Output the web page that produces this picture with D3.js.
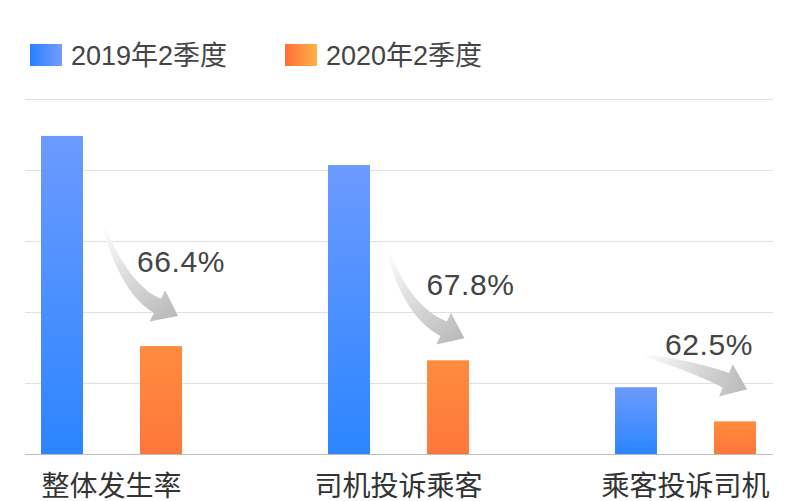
<!DOCTYPE html>
<html>
<head>
<meta charset="utf-8">
<script src="https://cdn.jsdelivr.net/npm/d3@7/dist/d3.min.js"></script>
<style>
  html, body { margin: 0; padding: 0; background: #fff; overflow: hidden; }
  svg { display: block; }
  text { font-family: "Liberation Sans", "Noto Sans CJK SC", sans-serif; }
</style>
</head>
<body>
<svg id="chart" width="800" height="501"></svg>
<script>
// Donnees (unites arbitraires, 5 = ligne du haut).
const categories = ["整体发生率", "司机投诉乘客", "乘客投诉司机"];
const seriesNames = ["2019年2季度", "2020年2季度"];
const values2019 = [4.48, 4.07, 0.94];
const values2020 = [1.52, 1.32, 0.46];
const changeLabels = ["66.4%", "67.8%", "62.5%"];
const yTicks = [0, 1, 2, 3, 4, 5];

const svg = d3.select("#chart");
const defs = svg.append("defs");

// Echelles : un point par categorie, puis une bande par serie.
const x0 = d3.scalePoint().domain(categories).range([111.5, 685.5]);
const x1 = d3.scaleBand().domain(seriesNames).range([-99, 99])
    .paddingInner(0.576).paddingOuter(0.288);
const y = d3.scaleLinear().domain([0, 5]).range([454, 99]);

// Degrades des barres (vertical) et de la legende (horizontal).
const colors = {
    "2019年2季度": { top: "#6c9aff", bottom: "#2c85ff", left: "#2a7fff", right: "#739dff" },
    "2020年2季度": { top: "#ff8c3e", bottom: "#ff763c", left: "#ff6d3a", right: "#ffb244" }
};
seriesNames.forEach(function(name, i) {
    const c = colors[name];
    const v = defs.append("linearGradient").attr("id", "bar-grad-" + i)
        .attr("x1", 0).attr("y1", 0).attr("x2", 0).attr("y2", 1);
    v.append("stop").attr("offset", "0%").attr("stop-color", c.top);
    v.append("stop").attr("offset", "100%").attr("stop-color", c.bottom);
    const h = defs.append("linearGradient").attr("id", "leg-grad-" + i)
        .attr("x1", 0).attr("y1", 0).attr("x2", 1).attr("y2", 0);
    h.append("stop").attr("offset", "0%").attr("stop-color", c.left);
    h.append("stop").attr("offset", "100%").attr("stop-color", c.right);
});

// Lignes de grille.
svg.append("g").selectAll("line")
    .data(yTicks)
    .enter()
    .append("line")
    .attr("x1", 25).attr("x2", 773)
    .attr("y1", function(d) { return y(d) + 0.5; })
    .attr("y2", function(d) { return y(d) + 0.5; })
    .attr("stroke", function(d) { return d === 0 ? "#bdbdbd" : "#e0e0e0"; })
    .attr("stroke-width", 1);

// Barres.
const rows = categories.map(function(cat, i) {
    return { cat: cat, vals: [values2019[i], values2020[i]] };
});
const groups = svg.append("g").selectAll("g")
    .data(rows)
    .enter()
    .append("g")
    .attr("transform", function(d) { return "translate(" + x0(d.cat) + ",0)"; });

groups.selectAll("rect")
    .data(function(d) {
        return d.vals.map(function(v, j) { return { name: seriesNames[j], value: v, j: j }; });
    })
    .enter()
    .append("rect")
    .attr("x", function(d) { return x1(d.name); })
    .attr("width", x1.bandwidth())
    .attr("y", function(d) { return y(d.value); })
    .attr("height", function(d) { return y(0) - y(d.value); })
    .attr("fill", function(d) { return "url(#bar-grad-" + d.j + ")"; });

// Libelles des categories (coupes en bas comme sur l'original).
svg.append("g").selectAll("text")
    .data(categories)
    .enter()
    .append("text")
    .attr("x", function(d) { return x0(d); })
    .attr("y", 496)
    .attr("text-anchor", "middle")
    .attr("font-size", 28)
    .attr("fill", "#333")
    .text(function(d) { return d; });

// Legende.
const legendX = [30, 285];
const legend = svg.append("g").selectAll("g")
    .data(seriesNames)
    .enter()
    .append("g")
    .attr("transform", function(d, i) { return "translate(" + legendX[i] + ",44)"; });
legend.append("rect")
    .attr("width", 32).attr("height", 22)
    .attr("fill", function(d, i) { return "url(#leg-grad-" + i + ")"; });
legend.append("text")
    .attr("x", 41).attr("y", 21)
    .attr("font-size", 27)
    .attr("fill", "#444")
    .text(function(d) { return d; });

// Fleches de baisse, relatives au centre du groupe (x) et a la barre orange (y).
// tail = depart, ctrl = point de controle, tip = pointe, label = texte.
const arrowLayout = [
    { tail: [-8.5, 225], ctrl: [14, 290], tip: [66.5, -30], label: [25.5, -74] },
    { tail: [-11, 250], ctrl: [9, 312], tip: [66, -22], label: [28, -65] },
    { tail: [-43.5, 355], ctrl: [4.5, 365], tip: [61.5, -32], label: [-20.5, -66] }
];

// Corps courbe qui s'elargit, puis pointe triangulaire.
function arrowPath(p0, c, t) {
    const headLen = 23, headHalf = 17.5, bodyHalf = 8, tailHalf = 0.8;
    const dx = t[0] - c[0], dy = t[1] - c[1];
    const len = Math.sqrt(dx * dx + dy * dy);
    const ux = dx / len, uy = dy / len;
    const b = [t[0] - ux * headLen, t[1] - uy * headLen];
    const left = [], right = [];
    const n = 30;
    for (let k = 0; k <= n; k++) {
        const s = k / n;
        const px = (1 - s) * (1 - s) * p0[0] + 2 * (1 - s) * s * c[0] + s * s * b[0];
        const py = (1 - s) * (1 - s) * p0[1] + 2 * (1 - s) * s * c[1] + s * s * b[1];
        let tx = 2 * (1 - s) * (c[0] - p0[0]) + 2 * s * (b[0] - c[0]);
        let ty = 2 * (1 - s) * (c[1] - p0[1]) + 2 * s * (b[1] - c[1]);
        const tl = Math.sqrt(tx * tx + ty * ty);
        tx /= tl; ty /= tl;
        const w = tailHalf + (bodyHalf - tailHalf) * Math.pow(s, 0.8);
        left.push([px + ty * w, py - tx * w]);
        right.push([px - ty * w, py + tx * w]);
    }
    const pts = left.concat([
        [b[0] + uy * headHalf, b[1] - ux * headHalf],
        t,
        [b[0] - uy * headHalf, b[1] + ux * headHalf]
    ]).concat(right.reverse());
    return "M" + pts.map(function(p) { return p[0].toFixed(1) + "," + p[1].toFixed(1); }).join("L") + "Z";
}

categories.forEach(function(cat, i) {
    const cx = x0(cat);
    const a = arrowLayout[i];
    const orangeTop = y(values2020[i]);
    const p0 = [cx + a.tail[0], a.tail[1]];
    const c = [cx + a.ctrl[0], a.ctrl[1]];
    const t = [cx + a.tip[0], orangeTop + a.tip[1]];

    const g = defs.append("linearGradient").attr("id", "arrow-grad-" + i)
        .attr("gradientUnits", "userSpaceOnUse")
        .attr("x1", p0[0]).attr("y1", p0[1]).attr("x2", t[0]).attr("y2", t[1]);
    g.append("stop").attr("offset", "0%").attr("stop-color", "#ffffff");
    g.append("stop").attr("offset", "55%").attr("stop-color", "#d6d6d6");
    g.append("stop").attr("offset", "100%").attr("stop-color", "#b9b9b9");

    svg.append("path")
        .attr("d", arrowPath(p0, c, t))
        .attr("fill", "url(#arrow-grad-" + i + ")");

    svg.append("text")
        .attr("x", cx + a.label[0])
        .attr("y", orangeTop + a.label[1])
        .attr("font-size", 30)
        .attr("letter-spacing", 0.6)
        .attr("fill", "#444")
        .text(changeLabels[i]);
});
</script>
</body>
</html>
